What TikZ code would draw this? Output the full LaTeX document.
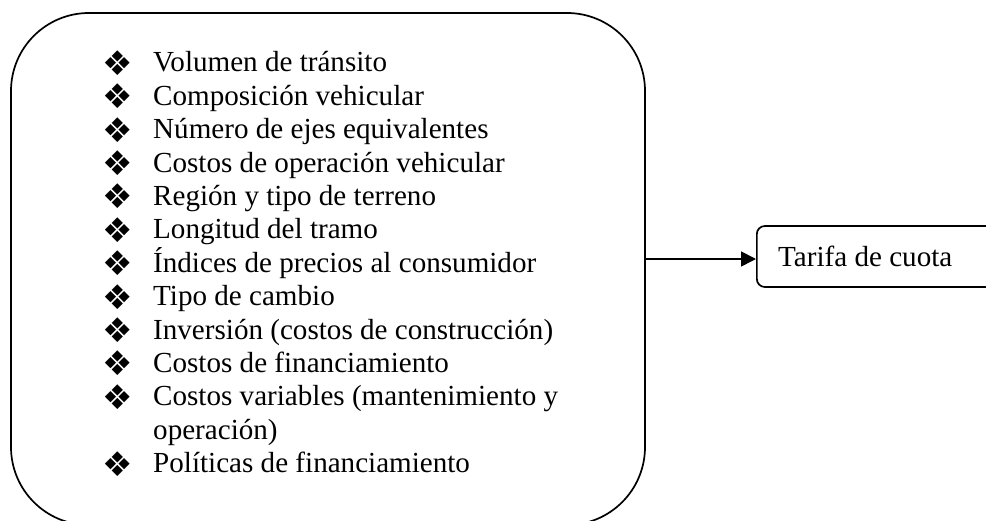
\documentclass[tikz,border=0pt]{standalone}
\usepackage{fontspec}
\setmainfont{Liberation Serif}
\newfontfamily\dejavu{DejaVu Sans}
\usetikzlibrary{arrows.meta}
\tikzset{
  frame/.style={draw, line width=1.7pt},
  itemtext/.style={anchor=base west, inner sep=0pt, font=\fontsize{29.1}{33.4}\selectfont},
  bulletmark/.style={anchor=center, inner sep=0pt, font=\dejavu\fontsize{34}{34}\selectfont},
  link/.style={line width=1.7pt, -{Triangle[length=15pt,width=15pt]}}
}
\begin{document}
\begin{tikzpicture}[x=1pt,y=1pt]
\useasboundingbox (0,0) rectangle (986,-521);
\clip (0,0) rectangle (986,-521);
% main rounded box
\node[frame, rounded corners=78pt, minimum width=634pt, minimum height=512pt, inner sep=0pt] (main) at (328,-269) {};
% result box
\node[frame, rounded corners=8pt, minimum width=262pt, minimum height=61pt, inner sep=0pt, anchor=west] (tarifa) at (756,-256.5) {};
\node[itemtext, anchor=west, inner sep=0pt] (tarifatext) at (778,-256.5) {Tarifa de cuota};
% list
\foreach \i/\t [count=\n from 0] in {
  1/Volumen de tránsito,
  1/Composición vehicular,
  1/Número de ejes equivalentes,
  1/Costos de operación vehicular,
  1/Región y tipo de terreno,
  1/Longitud del tramo,
  1/Índices de precios al consumidor,
  1/Tipo de cambio,
  1/Inversión (costos de construcción),
  1/Costos de financiamiento,
  1/Costos variables (mantenimiento y,
  0/operación),
  1/Políticas de financiamiento}{
  \pgfmathsetmacro{\yb}{-72-33.4*\n}
  \node[itemtext] (t\n) at (153,\yb) {\t};
  \ifnum\i=1
    \node[bulletmark] (b\n) at (118,\yb+9) {❖};
  \fi
}
% connector
\draw[link] (main.east |- 0,-259) -- (tarifa.west |- 0,-259);
\end{tikzpicture}
\end{document}
